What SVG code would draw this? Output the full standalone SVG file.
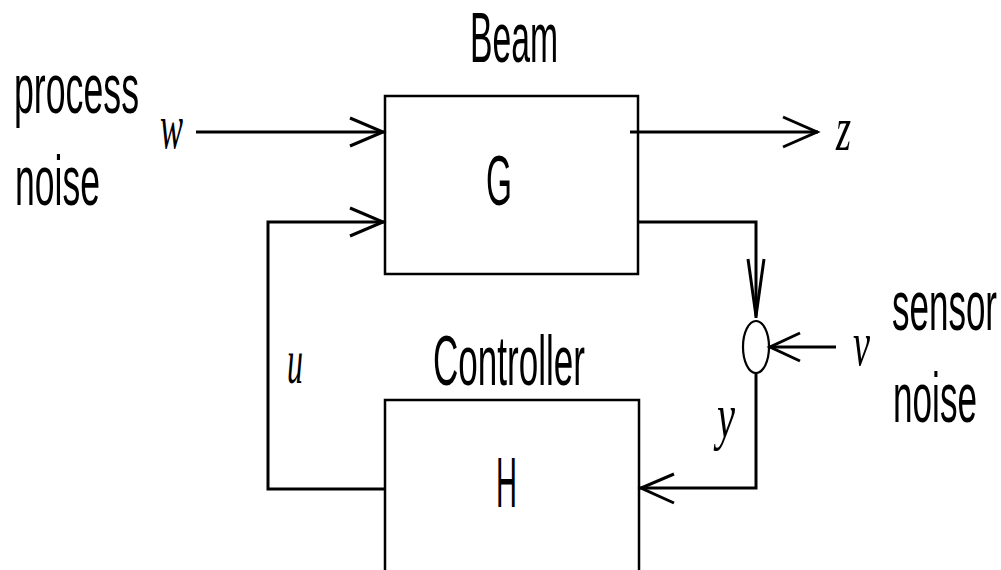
<svg xmlns="http://www.w3.org/2000/svg" width="1001" height="570" viewBox="0 0 1001 570">
<style>
.lbl{font-family:"Liberation Sans",Arial,sans-serif;font-size:70px;fill:#000}
.math{font-family:"Liberation Serif","Times New Roman",serif;font-style:italic;font-size:64px;fill:#000}
.box{fill:#fff;stroke:#000;stroke-width:2.5}
.ln{fill:none;stroke:#000;stroke-width:3}
.ah{fill:none;stroke:#000;stroke-width:3;stroke-linejoin:miter}
</style>
<rect width="1001" height="570" fill="#fff"/>
<g id="node-G">
<rect class="box" x="385" y="96" width="253" height="178"/>
<text class="lbl" x="486" y="205" textLength="26" lengthAdjust="spacingAndGlyphs">G</text>
<text class="lbl" x="470" y="62" textLength="88" lengthAdjust="spacingAndGlyphs">Beam</text>
</g>
<g id="node-H">
<rect class="box" x="385" y="400" width="254" height="200"/>
<text class="lbl" x="496" y="507" textLength="21" lengthAdjust="spacingAndGlyphs">H</text>
<text class="lbl" x="433" y="385" textLength="152" lengthAdjust="spacingAndGlyphs">Controller</text>
</g>
<g id="node-sum">
<ellipse cx="756" cy="347" rx="13" ry="26" fill="#fff" stroke="#000" stroke-width="2.2"/>
</g>
<g id="labels">
<text class="lbl" x="14" y="113" textLength="125" lengthAdjust="spacingAndGlyphs">process</text>
<text class="lbl" x="15" y="205" textLength="85" lengthAdjust="spacingAndGlyphs">noise</text>
<text class="lbl" x="892" y="330" textLength="105" lengthAdjust="spacingAndGlyphs">sensor</text>
<text class="lbl" x="893" y="422" textLength="84" lengthAdjust="spacingAndGlyphs">noise</text>
<text class="math" x="160" y="148" textLength="23" lengthAdjust="spacingAndGlyphs">w</text>
<text class="math" x="836" y="150" textLength="15" lengthAdjust="spacingAndGlyphs">z</text>
<text class="math" x="853" y="365" textLength="17" lengthAdjust="spacingAndGlyphs">v</text>
<text class="math" x="717" y="437" textLength="18" lengthAdjust="spacingAndGlyphs">y</text>
<text class="math" x="287" y="383" textLength="16" lengthAdjust="spacingAndGlyphs">u</text>
</g>
<g id="connectors">
<path class="ln" d="M196,132 H384"/>
<path class="ah" d="M350,118 L383,132 L350,146"/>
<path class="ln" d="M630,132 H818"/>
<path class="ah" d="M783,117 L817,132 L783,147"/>
<path class="ln" d="M638,222 H756 V318"/>
<path class="ah" d="M748,259 L756,316 L764,259" stroke-width="2.2"/>
<path class="ln" d="M836,347 H770"/>
<path class="ah" d="M800,333 L770,347 L800,361"/>
<path class="ln" d="M756,373 V488 H640" stroke-width="2.5"/>
<path class="ah" d="M674,474 L641,488 L674,503"/>
<path class="ln" d="M385,489 H268 V222 H384" stroke-width="2.5"/>
<path class="ah" d="M350,208 L383,222 L350,236"/>
</g>
</svg>
